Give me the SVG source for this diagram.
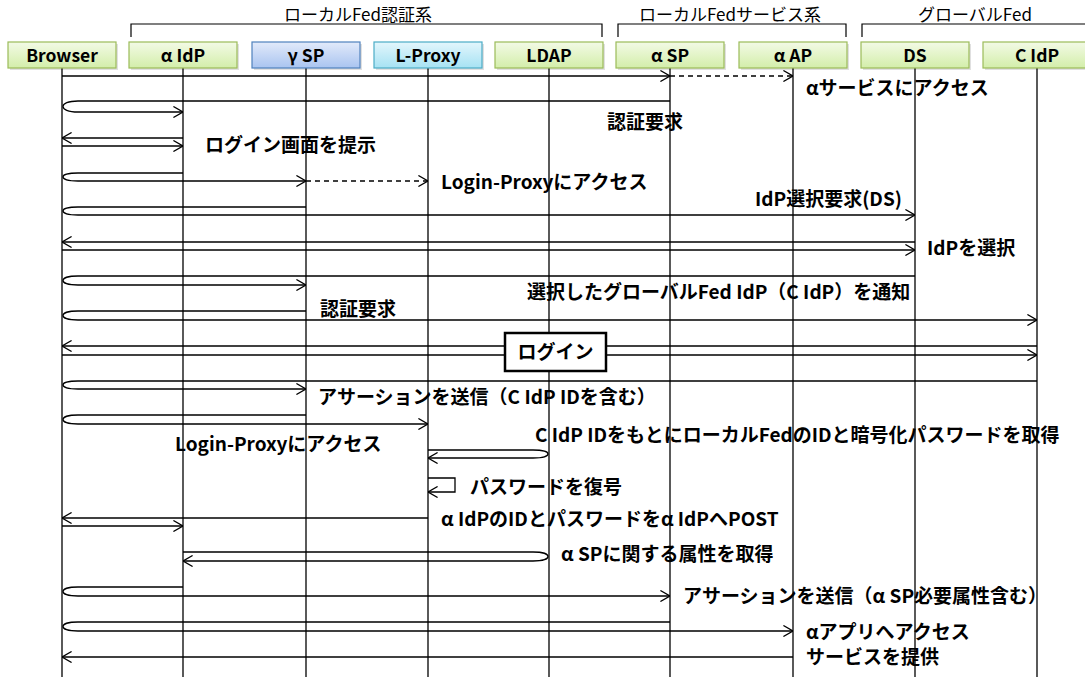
<svg xmlns="http://www.w3.org/2000/svg" width="1085" height="677" viewBox="0 0 1085 677">
<style>
.bg{fill:#fff}
.box{stroke-width:1.2}
.green{fill:url(#gGreen);stroke:#9bbb59}
.blue{fill:url(#gBlue);stroke:#4f81bd}
.cyan{fill:url(#gCyan);stroke:#4bacc6}
.shadow{fill:#000;opacity:.12}
.nlbl{font-family:"Noto Sans CJK JP","Noto Sans",sans-serif;font-weight:bold;font-size:17.5px;text-anchor:middle;fill:#000}
.glbl{font-family:"Noto Sans CJK JP","Noto Sans",sans-serif;font-weight:normal;font-size:17px;text-anchor:middle;fill:#000}
.bracket{fill:none;stroke:#000;stroke-width:1.2}
.life{stroke:#000;stroke-width:1.3}
.msg{fill:none;stroke:#000;stroke-width:1.3}
.arr{marker-end:url(#ah)}
.dash{stroke-dasharray:5 4}
.lbl{font-family:"Noto Sans CJK JP","Noto Sans",sans-serif;font-weight:bold;font-size:19px;fill:#000}
.login{fill:#fff;stroke:#000;stroke-width:2.5}
</style>
<defs>
<linearGradient id="gGreen" x1="0" y1="0" x2="0" y2="1"><stop offset="0" stop-color="#f3fae6"/><stop offset="1" stop-color="#d3eeaa"/></linearGradient>
<linearGradient id="gBlue" x1="0" y1="0" x2="0" y2="1"><stop offset="0" stop-color="#e2eafa"/><stop offset="1" stop-color="#a9c4f0"/></linearGradient>
<linearGradient id="gCyan" x1="0" y1="0" x2="0" y2="1"><stop offset="0" stop-color="#e3f6fc"/><stop offset="1" stop-color="#a6e2f3"/></linearGradient>
<marker id="ah" viewBox="0 0 10 12" refX="9.6" refY="6" markerWidth="10" markerHeight="12" markerUnits="userSpaceOnUse" orient="auto"><path d="M0,0.5 L9.5,6 L0,11.5" fill="none" stroke="#000" stroke-width="1.3"/></marker>
</defs>
<rect class="bg" x="0" y="0" width="1085" height="677"/>

<g id="groups">
<path class="bracket" d="M131,37 V24 H602 V37"/>
<text class="glbl" x="358" y="21">ローカルFed認証系</text>
<path class="bracket" d="M618,37 V24 H846 V37"/>
<text class="glbl" x="730" y="21">ローカルFedサービス系</text>
<path class="bracket" d="M862,37 V24 H1090"/>
<text class="glbl" x="975" y="21">グローバルFed</text>
</g>

<g id="lifelines">
<line class="life" x1="62" y1="68" x2="62" y2="677"/>
<line class="life" x1="183" y1="68" x2="183" y2="677"/>
<line class="life" x1="306" y1="68" x2="306" y2="677"/>
<line class="life" x1="428" y1="68" x2="428" y2="677"/>
<line class="life" x1="549" y1="68" x2="549" y2="677"/>
<line class="life" x1="670" y1="68" x2="670" y2="677"/>
<line class="life" x1="793" y1="68" x2="793" y2="677"/>
<line class="life" x1="915" y1="68" x2="915" y2="677"/>
<line class="life" x1="1037" y1="68" x2="1037" y2="677"/>
</g>

<g id="node-browser"><rect class="shadow" x="10" y="44" width="108" height="26"/><rect class="box green" x="8" y="42" width="108" height="26"/><text class="nlbl" x="62" y="61.5">Browser</text></g>
<g id="node-aidp"><rect class="shadow" x="131" y="44" width="108" height="26"/><rect class="box green" x="129" y="42" width="108" height="26"/><text class="nlbl" x="183" y="61.5">α IdP</text></g>
<g id="node-ysp"><rect class="shadow" x="254" y="44" width="108" height="26"/><rect class="box blue" x="252" y="42" width="108" height="26"/><text class="nlbl" x="306" y="61.5">γ SP</text></g>
<g id="node-lproxy"><rect class="shadow" x="376" y="44" width="108" height="26"/><rect class="box cyan" x="374" y="42" width="108" height="26"/><text class="nlbl" x="428" y="61.5">L-Proxy</text></g>
<g id="node-ldap"><rect class="shadow" x="497" y="44" width="108" height="26"/><rect class="box green" x="495" y="42" width="108" height="26"/><text class="nlbl" x="549" y="61.5">LDAP</text></g>
<g id="node-asp"><rect class="shadow" x="618" y="44" width="108" height="26"/><rect class="box green" x="616" y="42" width="108" height="26"/><text class="nlbl" x="670" y="61.5">α SP</text></g>
<g id="node-aap"><rect class="shadow" x="741" y="44" width="108" height="26"/><rect class="box green" x="739" y="42" width="108" height="26"/><text class="nlbl" x="793" y="61.5">α AP</text></g>
<g id="node-ds"><rect class="shadow" x="863" y="44" width="108" height="26"/><rect class="box green" x="861" y="42" width="108" height="26"/><text class="nlbl" x="915" y="61.5">DS</text></g>
<g id="node-cidp"><rect class="shadow" x="985" y="44" width="108" height="26"/><rect class="box green" x="983" y="42" width="108" height="26"/><text class="nlbl" x="1037" y="61.5">C IdP</text></g>

<g id="connectors">
<path class="msg arr" d="M62,76 H670"/>
<path class="msg arr dash" d="M670,76 H793"/>
<path class="msg arr" d="M670,101 H78 C58,101 58,112 78,112 H183"/>
<path class="msg arr" d="M183,138 H62"/>
<path class="msg arr" d="M62,146 H183"/>
<path class="msg arr" d="M183,173 H78 C58,173 58,181 78,181 H306"/>
<path class="msg arr dash" d="M306,181 H428"/>
<path class="msg arr" d="M306,207 H78 C58,207 58,215 78,215 H915"/>
<path class="msg arr" d="M915,242 H62"/>
<path class="msg arr" d="M62,250 H915"/>
<path class="msg arr" d="M915,276 H78 C58,276 58,285 78,285 H306"/>
<path class="msg arr" d="M306,311 H78 C58,311 58,320 78,320 H1037"/>
<path class="msg arr" d="M1037,346 H62"/>
<path class="msg arr" d="M62,355 H1037"/>
<path class="msg arr" d="M1037,381 H78 C58,381 58,389 78,389 H306"/>
<path class="msg arr" d="M306,415 H78 C58,415 58,424 78,424 H428"/>
<path class="msg arr" d="M428,450 H533 C553,450 553,458 533,458 H428"/>
<path class="msg arr" d="M428,478 H455 V492 H428"/>
<path class="msg arr" d="M428,518 H62"/>
<path class="msg arr" d="M62,526 H183"/>
<path class="msg arr" d="M183,552 H533 C553,552 553,561 533,561 H183"/>
<path class="msg arr" d="M183,587 H78 C58,587 58,596 78,596 H670"/>
<path class="msg arr" d="M670,622 H78 C58,622 58,631 78,631 H793"/>
<path class="msg arr" d="M793,657 H62"/>
</g>

<g id="node-login"><rect class="login" x="505" y="333" width="101" height="38"/><text class="lbl" x="555.5" y="359" text-anchor="middle">ログイン</text></g>

<g id="labels">
<text class="lbl" x="806" y="95">αサービスにアクセス</text>
<text class="lbl" x="607" y="129">認証要求</text>
<text class="lbl" x="205" y="152">ログイン画面を提示</text>
<text class="lbl" x="441" y="189">Login-Proxyにアクセス</text>
<text class="lbl" x="755" y="206">IdP選択要求(DS)</text>
<text class="lbl" x="927" y="255">IdPを選択</text>
<text class="lbl" x="527" y="299">選択したグローバルFed IdP（C IdP）を通知</text>
<text class="lbl" x="320" y="316">認証要求</text>
<text class="lbl" x="318" y="404">アサーションを送信（C IdP IDを含む）</text>
<text class="lbl" x="175" y="451">Login-Proxyにアクセス</text>
<text class="lbl" x="535" y="442">C IdP IDをもとにローカルFedのIDと暗号化パスワードを取得</text>
<text class="lbl" x="470" y="494">パスワードを復号</text>
<text class="lbl" x="441" y="526">α IdPのIDとパスワードをα IdPへPOST</text>
<text class="lbl" x="561" y="561">α SPに関する属性を取得</text>
<text class="lbl" x="683" y="603">アサーションを送信（α SP必要属性含む）</text>
<text class="lbl" x="806" y="639">αアプリへアクセス</text>
<text class="lbl" x="806" y="664">サービスを提供</text>
</g>
</svg>
